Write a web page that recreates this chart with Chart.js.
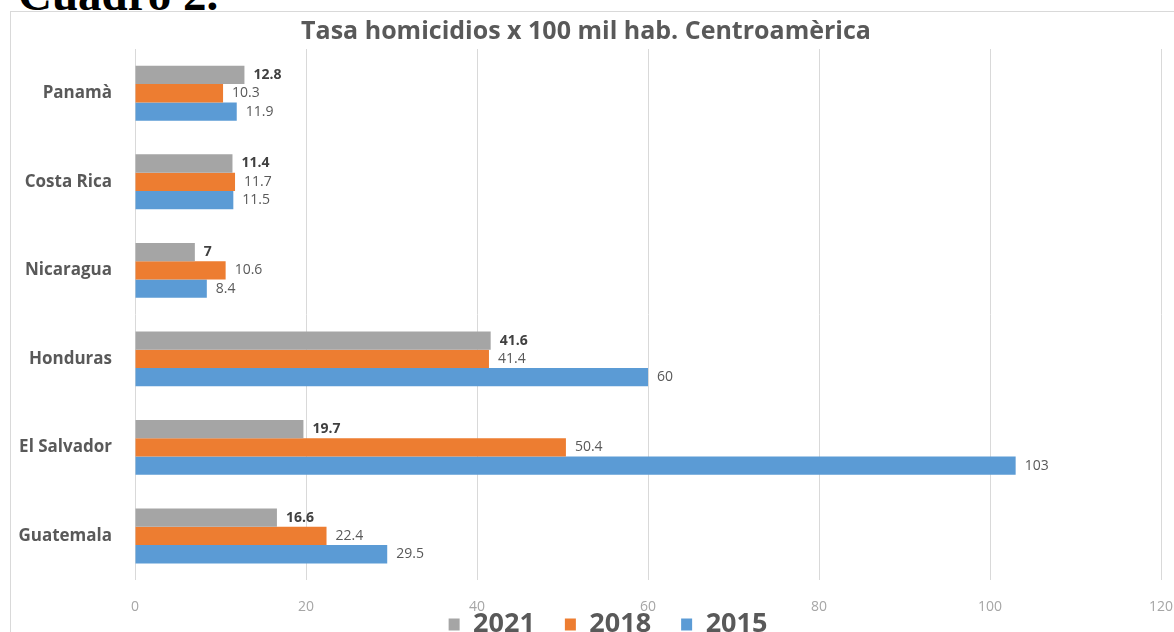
<!DOCTYPE html>
<html>
<head>
<meta charset="utf-8">
<script src="https://cdn.jsdelivr.net/npm/chart.js@4/dist/chart.umd.min.js"></script>
<style>
  html, body { margin: 0; padding: 0; background: #fff; overflow: hidden; }
  #cuadro { position: absolute; left: 18px; top: -29px; font: bold 47px/1 "Liberation Serif", serif; color: #000; }
  #box { position: absolute; left: 10px; top: 11px; width: 1200px; height: 688px; border: 1px solid #d9d9d9; }
  #box canvas { display: block; }
</style>
</head>
<body>
<div id="cuadro">Cuadro 2.</div>
<div id="box"><canvas id="chart" width="1200" height="688"></canvas></div>
<script>
const paises = ['Panamà', 'Costa Rica', 'Nicaragua', 'Honduras', 'El Salvador', 'Guatemala'];
const tasa2021 = [12.8, 11.4, 7, 41.6, 19.7, 16.6];
const tasa2018 = [10.3, 11.7, 10.6, 41.4, 50.4, 22.4];
const tasa2015 = [11.9, 11.5, 8.4, 60, 103, 29.5];
const ejeX = [0, 20, 40, 60, 80, 100, 120];

const FONT = '"Open Sans", "DejaVu Sans", sans-serif';

// etiquetas de valor al final de cada barra
const etiquetas = {
  id: 'etiquetas',
  afterDatasetsDraw(chart) {
    const ctx = chart.ctx;
    chart.data.datasets.forEach((ds, i) => {
      const meta = chart.getDatasetMeta(i);
      meta.data.forEach((bar, j) => {
        ctx.save();
        ctx.font = (i === 0 ? 'bold ' : '') + '14px ' + FONT;
        ctx.fillStyle = i === 0 ? '#404040' : '#595959';
        ctx.textAlign = 'left';
        ctx.textBaseline = 'middle';
        ctx.fillText(String(ds.data[j]), bar.x + 9, bar.y);
        ctx.restore();
      });
    });
  }
};

// la leyenda queda pegada a los ticks, como en Excel
const moverLeyenda = {
  id: 'moverLeyenda',
  afterLayout(chart) {
    const lg = chart.legend;
    lg.top -= 52;
    lg.bottom -= 52;
    lg.left += 22;
    lg.right += 22;
  }
};

new Chart(document.getElementById('chart'), {
  type: 'bar',
  data: {
    labels: paises,
    datasets: [
      { label: '2021', data: tasa2021, backgroundColor: '#a5a5a5' },
      { label: '2018', data: tasa2018, backgroundColor: '#ed7d31' },
      { label: '2015', data: tasa2015, backgroundColor: '#5b9bd5' }
    ]
  },
  options: {
    indexAxis: 'y',
    responsive: false,
    animation: false,
    datasets: { bar: { barPercentage: 1, categoryPercentage: 0.62 } },
    layout: { padding: { left: 0, right: 50, top: 0, bottom: 0 } },
    plugins: {
      title: {
        display: true,
        text: 'Tasa homicidios x 100 mil hab. Centroamèrica',
        color: '#595959',
        font: { family: FONT, size: 25, weight: 'bold' },
        padding: { top: 5, bottom: 2 }
      },
      legend: {
        position: 'bottom',
        labels: {
          color: '#595959',
          font: { family: FONT, size: 27, weight: 'bold' },
          boxWidth: 11, boxHeight: 12, padding: 30
        }
      },
      tooltip: { enabled: false }
    },
    scales: {
      x: {
        min: 0, max: 120,
        afterBuildTicks: s => { s.ticks = ejeX.map(v => ({ value: v })); },
        grid: { color: '#d9d9d9', drawTicks: false },
        border: { display: false },
        ticks: { color: '#a6a6a6', font: { family: FONT, size: 14 }, padding: 18 }
      },
      y: {
        grid: { display: false },
        border: { display: false },
        afterFit: s => { s.width = 124; },
        ticks: { color: '#595959', font: { family: FONT, size: 17, weight: 'bold' }, padding: 15 }
      }
    }
  },
  plugins: [etiquetas, moverLeyenda]
});
</script>
</body>
</html>
